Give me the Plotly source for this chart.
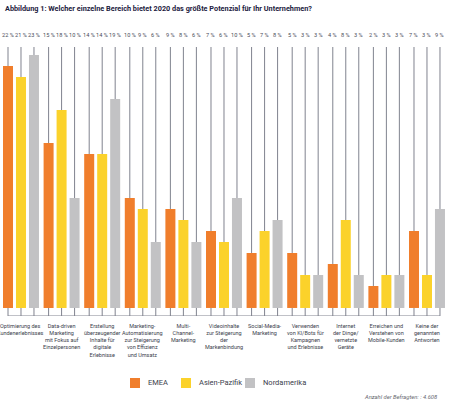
import plotly.graph_objects as go

categories = [
    "Optimierung des<br>Kundenerlebnisses",
    "Data-driven<br>Marketing<br>mit Fokus auf<br>Einzelpersonen",
    "Erstellung<br>überzeugender<br>Inhalte für<br>digitale<br>Erlebnisse",
    "Marketing-<br>Automatisierung<br>zur Steigerung<br>von Effizienz<br>und Umsatz",
    "Multi-<br>Channel-<br>Marketing",
    "Videoinhalte<br>zur Steigerung<br>der<br>Markenbindung",
    "Social-Media-<br>Marketing",
    "Verwenden<br>von KI/Bots für<br>Kampagnen<br>und Erlebnisse",
    "Internet<br>der Dinge/<br>vernetzte<br>Geräte",
    "Erreichen und<br>Verstehen von<br>Mobile-Kunden",
    "Keine der<br>genannten<br>Antworten",
]
emea = [22, 15, 14, 10, 9, 7, 5, 5, 4, 2, 7]
asien_pazifik = [21, 18, 14, 9, 8, 6, 7, 3, 8, 3, 3]
nordamerika = [23, 10, 19, 6, 6, 10, 8, 3, 3, 3, 9]

series = [
    ("EMEA", emea, "#f07e2c"),
    ("Asien-Pazifik", asien_pazifik, "#fbd22b"),
    ("Nordamerika", nordamerika, "#c2c2c4"),
]

Y_TOP = 23.73
Y_BOT = -0.73
SPACING = 0.32
LINE_COLOR = "#80838f"
FONT = "Roboto"
W, H = 450, 403
ML, MR, MT, MB = 0, 0, 47, 87
PH = H - MT - MB

def py(pixel_y):
    """pixel row (from top of figure) -> paper y coordinate"""
    return (H - MB - pixel_y) / PH

fig = go.Figure()

n = len(categories)
xs = list(range(n))

# thin guide lines
lx, ly = [], []
label_anns = []
for k, (name, vals, col) in enumerate(series):
    off = (k - 1) * SPACING
    for i, v in enumerate(vals):
        xp = i + off
        lx += [xp, xp, None, xp, xp, None]
        ly += [v, Y_TOP, None, 0, Y_BOT, None]
        label_anns.append(dict(
            x=xp, y=1, xref="x", yref="paper", yanchor="bottom", yshift=7,
            text=f"{v} %", showarrow=False,
            font=dict(size=5.6, color="#4a4d5a", family=FONT),
        ))
first_x = 0 - SPACING
last_x = (n - 1) + SPACING
lx += [first_x, last_x]
ly += [Y_BOT, Y_BOT]

fig.add_trace(go.Scatter(
    x=lx, y=ly, mode="lines", line=dict(color=LINE_COLOR, width=1),
    showlegend=False, hoverinfo="skip", cliponaxis=False,
))

for name, vals, col in series:
    fig.add_trace(go.Bar(
        x=xs, y=vals, name=name, marker=dict(color=col, line=dict(width=0)),
        showlegend=False,
    ))

anns = list(label_anns)
for i, c in enumerate(categories):
    anns.append(dict(
        x=i, y=0, xref="x", yref="paper", yanchor="top", yshift=-5,
        text=c, showarrow=False, align="center",
        font=dict(size=5.5, color="#3b3e4c", family=FONT),
    ))

# legend (swatch + label per series)
legend_swatch_px = [135, 186, 250]
for (name, vals, col), sx in zip(series, legend_swatch_px):
    anns.append(dict(
        x=sx / W, y=py(382.5), xref="paper", yref="paper",
        xanchor="center", yanchor="middle", text=" ", showarrow=False,
        width=10, height=10, bgcolor=col, borderpad=0, borderwidth=0,
        font=dict(size=1),
    ))
    anns.append(dict(
        x=(sx + 11) / W, y=py(382.5), xref="paper", yref="paper",
        xanchor="left", yanchor="middle", text=name, showarrow=False,
        font=dict(size=7.5, color="#3b3e4c", family=FONT),
    ))

anns.append(dict(
    x=1 - 10 / W, xanchor="right", xref="paper", yref="paper",
    y=py(396.5), yanchor="middle",
    text="<i>Anzahl der Befragten: : 4.608</i>",
    showarrow=False, font=dict(size=5.8, color="#666870", family=FONT),
))

fig.update_layout(
    width=W, height=H,
    margin=dict(l=ML, r=MR, t=MT, b=MB),
    paper_bgcolor="white", plot_bgcolor="white",
    barmode="group", bargap=0.04, bargroupgap=0.23,
    title=dict(
        text="<b>Abbildung 1: Welcher einzelne Bereich bietet 2020 das größte Potenzial für Ihr Unternehmen?</b>",
        x=5 / W, xanchor="left", y=1 - 8 / H, yanchor="middle",
        font=dict(size=7.3, color="#1d2140", family=FONT),
    ),
    xaxis=dict(range=[-0.517, 10.567], visible=False, fixedrange=True),
    yaxis=dict(range=[Y_BOT, Y_TOP], visible=False, fixedrange=True),
    showlegend=False,
    annotations=anns,
)

fig.write_html(
    "out.html",
    config={"displayModeBar": False},
    post_script="document.body.style.margin='0';document.body.style.overflow='hidden';",
)
